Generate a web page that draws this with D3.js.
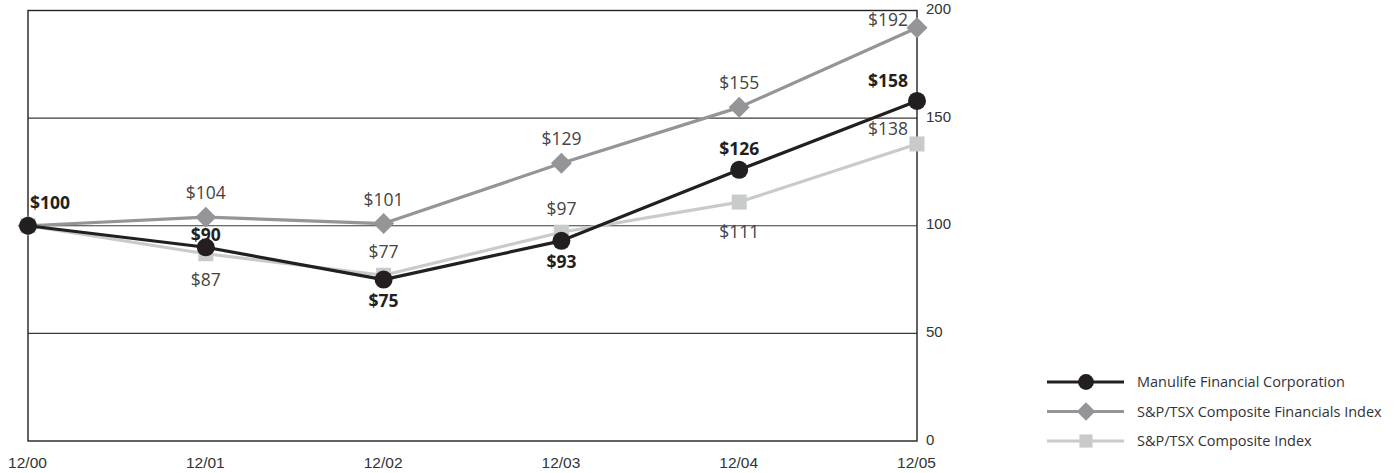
<!DOCTYPE html>
<html>
<head>
<meta charset="utf-8">
<script src="https://cdn.jsdelivr.net/npm/d3@7"></script>
<style>
  html, body { margin: 0; padding: 0; background: #fff; }
  svg { display: block; font-family: "Open Sans", "Noto Sans", sans-serif; }
</style>
</head>
<body>
<svg id="chart" width="1399" height="473"></svg>
<script>
// Five-year cumulative total return on $100 invested
const periods = ["12/00", "12/01", "12/02", "12/03", "12/04", "12/05"];
const manulife = [100, 90, 75, 93, 126, 158];
const financials = [100, 104, 101, 129, 155, 192];
const composite = [100, 87, 77, 97, 111, 138];
const yTicks = [0, 50, 100, 150, 200];
const seriesNames = [
  "Manulife Financial Corporation",
  "S&P/TSX Composite Financials Index",
  "S&P/TSX Composite Index"
];

// Where each value label sits relative to its point (null = no label)
const manulifeLabelPos = ["right", "above-tight", "below", "below", "above", "above-left"];
const financialsLabelPos = [null, "above", "above", "above", "above", "above-left"];
const compositeLabelPos = [null, "below", "above", "above", "below-far", "above-left"];

const svg = d3.select("#chart");
const margin = { left: 28, right: 917, top: 10.5, bottom: 441 };

const x = d3.scalePoint().domain(periods).range([margin.left, margin.right]);
const y = d3.scaleLinear().domain([0, 200]).range([margin.bottom, margin.top]);

// Horizontal gridlines and frame
const grid = svg.append("g");
grid.selectAll("line.grid")
  .data(yTicks.filter(t => t > 0 && t < 200))
  .join("line")
  .attr("x1", margin.left).attr("x2", margin.right)
  .attr("y1", d => y(d)).attr("y2", d => y(d))
  .attr("stroke", "#3a3a3a").attr("stroke-width", 1.2);
grid.append("rect")
  .attr("x", margin.left).attr("y", margin.top)
  .attr("width", margin.right - margin.left)
  .attr("height", margin.bottom - margin.top)
  .attr("fill", "none").attr("stroke", "#222").attr("stroke-width", 1.4);

// Right-hand value axis labels
const yAxis = d3.axisRight(y).tickValues(yTicks).tickSize(0).tickPadding(0);
const yg = svg.append("g").attr("transform", `translate(${margin.right + 9},0)`).call(yAxis);
yg.select(".domain").remove();
yg.selectAll("text")
  .attr("font-size", 15).attr("fill", "#333")
  .attr("dy", "0.2em");

// Bottom period labels
const xAxis = d3.axisBottom(x).tickSize(0).tickPadding(0);
const xg = svg.append("g").attr("transform", `translate(0,${margin.bottom + 22})`).call(xAxis);
xg.select(".domain").remove();
xg.selectAll("text").attr("font-size", 15.5).attr("fill", "#333").attr("dy", "0.35em")
  .attr("transform", "translate(-1,0)");

const series = [
  { name: seriesNames[2], values: composite, color: "#c9cacc", marker: "square", labelPos: compositeLabelPos, bold: false, labelColor: "#444" },
  { name: seriesNames[1], values: financials, color: "#949598", marker: "diamond", labelPos: financialsLabelPos, bold: false, labelColor: "#444" },
  { name: seriesNames[0], values: manulife, color: "#231f20", marker: "circle", labelPos: manulifeLabelPos, bold: true, labelColor: "#231f20" }
];

const line = d3.line().x(d => x(d.p)).y(d => y(d.v));

function drawMarker(g, type, color, cx, cy, scale) {
  const s = scale || 1;
  if (type === "circle") {
    g.append("circle").attr("cx", cx).attr("cy", cy).attr("r", 9 * s).attr("fill", color);
  } else if (type === "diamond") {
    const r = 10.5 * s;
    g.append("path")
      .attr("d", `M${cx},${cy - r}L${cx + r},${cy}L${cx},${cy + r}L${cx - r},${cy}Z`)
      .attr("fill", color);
  } else {
    const h = 7.5 * s;
    g.append("rect").attr("x", cx - h).attr("y", cy - h)
      .attr("width", 2 * h).attr("height", 2 * h).attr("fill", color);
  }
}

const offsets = {
  "right": { dx: 2, dy: -17, anchor: "start" },
  "above": { dx: 0, dy: -18, anchor: "middle" },
  "above-tight": { dx: 0, dy: -6, anchor: "middle" },
  "below": { dx: 0, dy: 27, anchor: "middle" },
  "below-far": { dx: 0, dy: 36, anchor: "middle" },
  "above-left": { dx: -9, dy: -12, anchor: "end" }
};

series.forEach(s => {
  const pts = s.values.map((v, i) => ({ p: periods[i], v }));
  const g = svg.append("g");
  g.append("path").datum(pts)
    .attr("d", line).attr("fill", "none")
    .attr("stroke", s.color).attr("stroke-width", 3.2)
    .attr("stroke-linejoin", "round");
  pts.forEach(d => drawMarker(g, s.marker, s.color, x(d.p), y(d.v)));
});

// Value labels drawn on top of all series
series.forEach(s => {
  s.values.forEach((v, i) => {
    const pos = s.labelPos[i];
    if (!pos) return;
    let o = offsets[pos];
    let dy = o.dy;
    if (pos === "above-left") {
      dy = s.marker === "diamond" ? -2 : (s.marker === "square" ? -9 : -14);
    }
    if (pos === "above" && s.marker === "circle") dy = -15;
    if (pos === "below" && s.marker === "square") dy = 32;
    if (pos === "above" && s.marker === "square") dy = -17;
    svg.append("text")
      .attr("x", x(periods[i]) + o.dx)
      .attr("y", y(v) + dy)
      .attr("text-anchor", o.anchor)
      .attr("font-size", 17.5)
      .attr("font-weight", s.bold ? 700 : 400)
      .attr("fill", s.labelColor)
      .text("$" + v);
  });
});

// Legend
const legend = svg.append("g");
const legendRows = [series[2], series[1], series[0]];
legendRows.forEach((s, i) => {
  const cy = 382 + i * 29.5;
  legend.append("line")
    .attr("x1", 1047).attr("x2", 1124).attr("y1", cy).attr("y2", cy)
    .attr("stroke", s.color).attr("stroke-width", 3);
  drawMarker(legend, s.marker, s.color, 1086, cy, 0.88);
  legend.append("text")
    .attr("x", 1137).attr("y", cy).attr("dy", "0.35em")
    .attr("font-size", 14.5).attr("fill", "#333")
    .text(s.name);
});
</script>
</body>
</html>
